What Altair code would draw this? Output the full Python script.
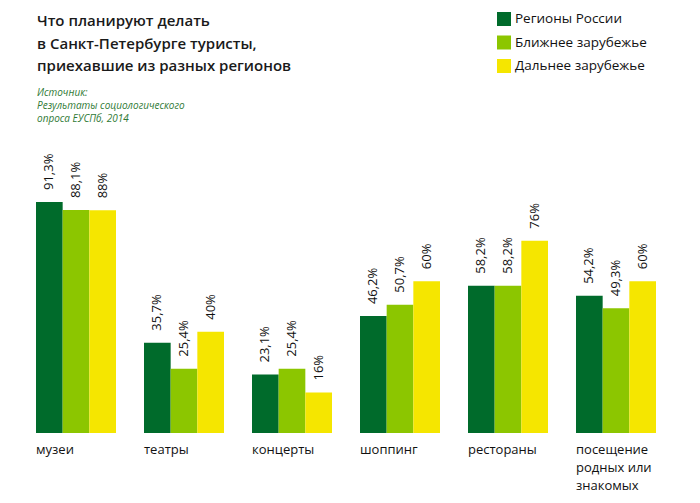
import altair as alt
import pandas as pd

categories = ["музеи", "театры", "концерты", "шоппинг", "рестораны", "посещение|родных или|знакомых"]
series = ["Регионы России", "Ближнее зарубежье", "Дальнее зарубежье"]
russia = [91.3, 35.7, 23.1, 46.2, 58.2, 54.2]
near = [88.1, 25.4, 25.4, 50.7, 58.2, 49.3]
far = [88, 40, 16, 60, 76, 60]
colors = ["#006b2b", "#8cc600", "#f5e600"]

title_lines = ["Что планируют делать", "в Санкт-Петербурге туристы,", "приехавшие из разных регионов"]
source_lines = ["Источник:", "Результаты социологического", "опроса ЕУСПб, 2014"]

rows = []
for s, vals in zip(series, [russia, near, far]):
    for c, v in zip(categories, vals):
        rows.append({"cat": c, "series": s, "value": v,
                     "label": f"{v:g}".replace(".", ",") + "%"})
df = pd.DataFrame(rows)

FONT = "Open Sans"

x = alt.X("cat:N", sort=categories, title=None,
          scale=alt.Scale(paddingInner=28 / 108, paddingOuter=0),
          axis=alt.Axis(domain=False, ticks=False, grid=False, labelAngle=0,
                        labelAlign="left", labelBaseline="top", labelOffset=-40,
                        labelPadding=10, labelFontSize=13, labelFont=FONT,
                        labelColor="#111111", labelLineHeight=18,
                        labelExpr="split(datum.label, '|')"))
xo = alt.XOffset("series:N", sort=series, scale=alt.Scale(paddingInner=0, paddingOuter=0))
y = alt.Y("value:Q", scale=alt.Scale(domain=[0, 100], nice=False), axis=None)

base = alt.Chart(df)

bars = base.mark_bar(stroke=None).encode(
    x=x, xOffset=xo, y=y,
    color=alt.Color("series:N", sort=series,
                    scale=alt.Scale(domain=series, range=colors),
                    legend=alt.Legend(title=None, orient="none", legendX=461, legendY=-168,
                                      symbolType="square", symbolSize=196,
                                      symbolStrokeWidth=0, labelFontSize=13.5,
                                      labelFont=FONT, labelColor="#111111",
                                      labelOffset=4, rowPadding=9.5)),
)

labels = base.mark_text(angle=270, align="left", baseline="middle", dx=12,
                        fontSize=13, font=FONT, color="#111111").encode(
    x=x, xOffset=xo, y=y, text="label:N"
)

one = alt.Chart(pd.DataFrame({"a": [0]}))
title = one.mark_text(text=title_lines, align="left", baseline="alphabetic",
                      fontSize=15, fontWeight=600, font=FONT, color="#1a1a1a",
                      lineHeight=22.5).encode(x=alt.value(1), y=alt.value(-154))
source = one.mark_text(text=source_lines, align="left", baseline="alphabetic",
                       fontSize=10, fontStyle="italic", font=FONT, color="#2f7a35",
                       lineHeight=13).encode(x=alt.value(1), y=alt.value(-84))

chart = alt.layer(bars, labels, title, source).properties(
    width=620, height=253,
    autosize=alt.AutoSizeParams(type="none"),
    padding={"left": 28, "top": 172, "right": 20, "bottom": 60},
).configure_view(stroke=None)

chart.save("out.html", embed_options={"renderer": "svg", "actions": False})
